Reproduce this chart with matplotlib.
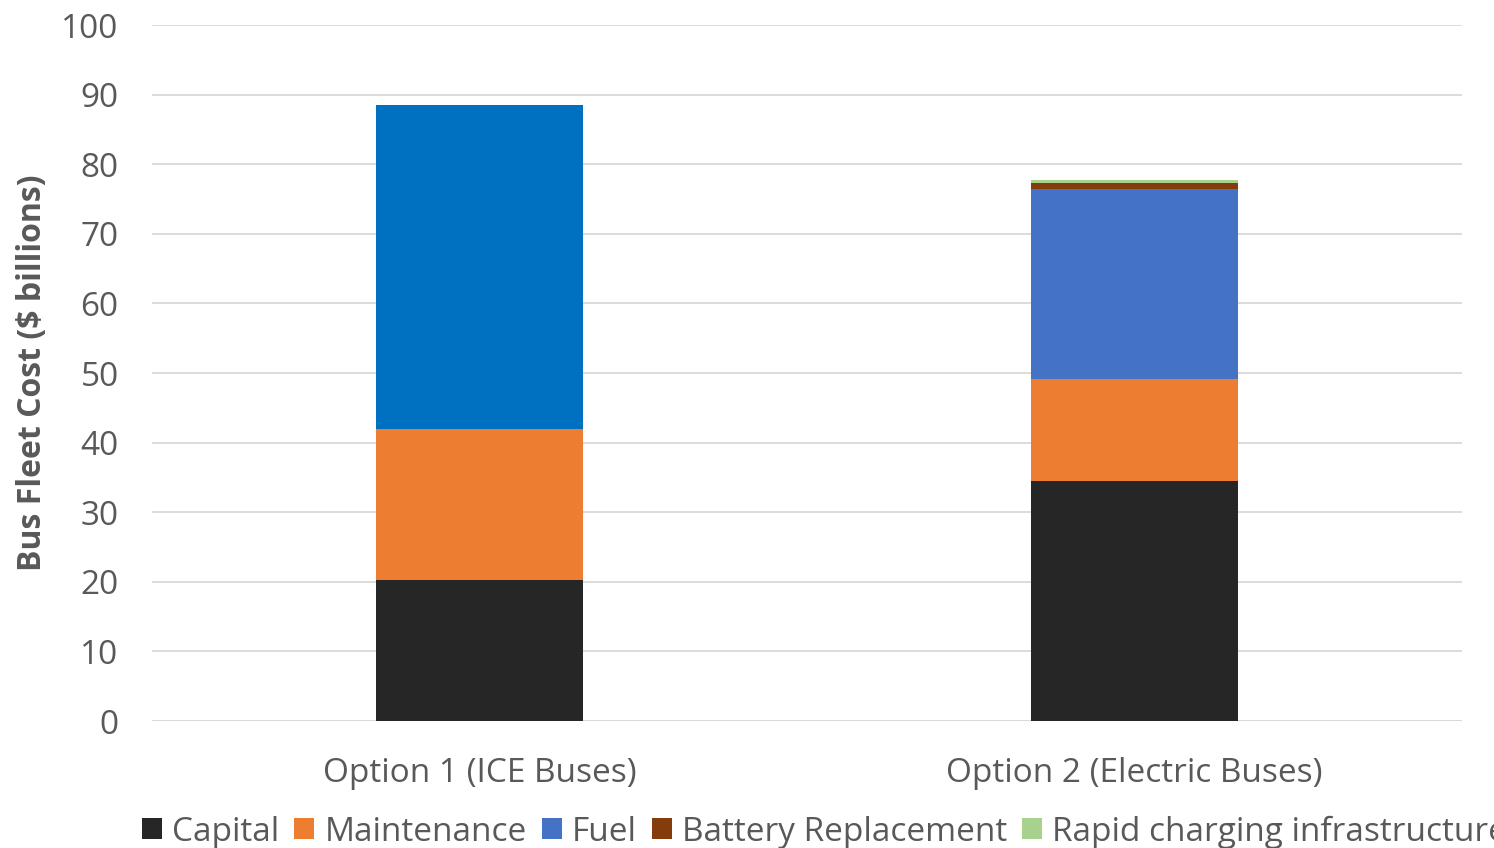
import numpy as np
import matplotlib
matplotlib.use("Agg")
import matplotlib.pyplot as plt
from matplotlib.patches import Patch

plt.rcParams["font.family"] = ["Open Sans", "DejaVu Sans"]

# ---- cost breakdown, $ billions
options = ["Option 1 (ICE Buses)", "Option 2 (Electric Buses)"]
capital = [20.3, 34.5]
maintenance = [21.6, 14.6]
fuel = [46.6, 27.3]
battery = [0.0, 0.9]
rapid_charging = [0.0, 0.4]

components = ["Capital", "Maintenance", "Fuel", "Battery Replacement",
              "Rapid charging infrastructure"]
colors = ["#262626", "#ED7D31", "#4472C4", "#843C0C", "#A9D18E"]
fuel_ice_color = "#0070C0"   # ICE fuel bar is coloured on its own
grey = "#595959"
fs = 24

fig = plt.figure(figsize=(14.94, 8.48), dpi=100)
ax = fig.add_axes([152/1494, 1-721/848, 1310/1494, 696/848])

x = np.arange(len(options))
w = 0.315
bottom = np.zeros(len(options))
for name, vals, col in zip(components, [capital, maintenance, fuel, battery, rapid_charging], colors):
    vals = np.array(vals)
    cols = [col] * len(options)
    if name == "Fuel":
        cols[0] = fuel_ice_color
    ax.bar(x, vals, w, bottom=bottom, color=cols, zorder=3)
    bottom += vals

ax.set_xlim(-0.5, 1.5)
ax.set_ylim(0, 100)
ax.set_yticks(np.arange(0, 101, 10))
ax.yaxis.grid(True, color="#D9D9D9", lw=1.3, zorder=0)
for s in ax.spines.values():
    s.set_visible(False)
ax.axhline(0, color="#D9D9D9", lw=1.3, zorder=1)
ax.tick_params(axis="y", length=0, pad=24, labelsize=fs, labelcolor=grey)
ax.tick_params(axis="x", length=0, pad=26, labelsize=fs, labelcolor=grey)
ax.set_xticks(x)
ax.set_xticklabels(options)
ax.set_ylabel("Bus Fleet Cost ($ billions)", fontsize=23, fontweight="bold",
              color=grey, labelpad=9)

handles = [Patch(facecolor=c, edgecolor="none") for c in colors]
fig.legend(handles, components, loc="lower left", bbox_to_anchor=(112/1494, -0.036),
           ncol=5, frameon=False, fontsize=fs, labelcolor=grey,
           handlelength=0.6, handleheight=0.6, handletextpad=0.3, columnspacing=0.45)

fig.savefig("out.png", dpi=100)
